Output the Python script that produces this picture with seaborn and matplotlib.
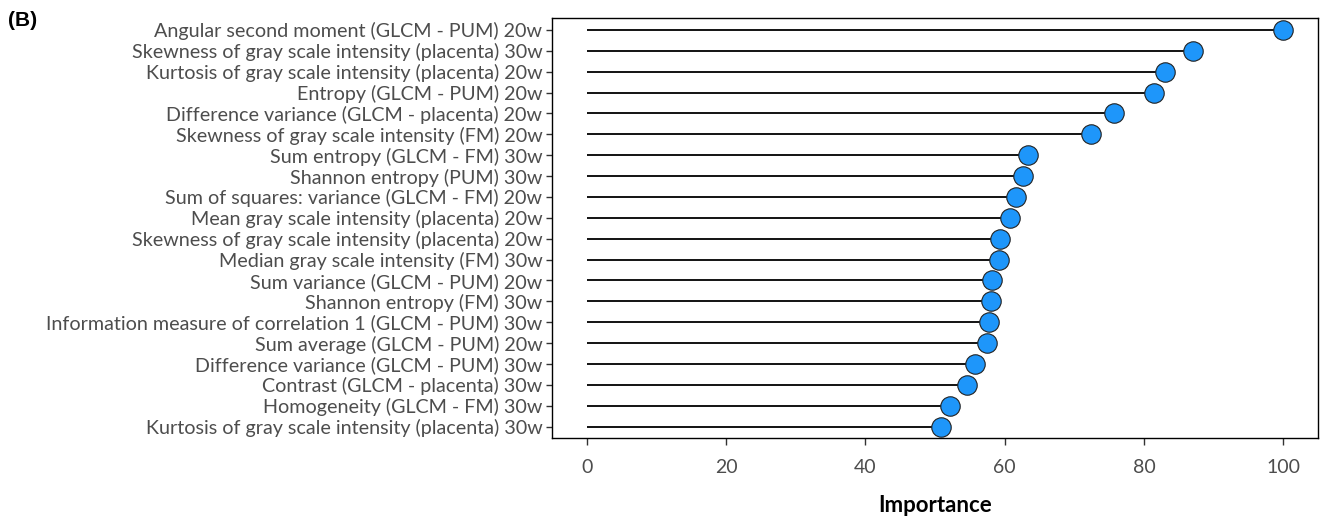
import matplotlib
matplotlib.use("Agg")
import matplotlib.pyplot as plt
import seaborn as sns
import pandas as pd

features = [
    "Angular second moment (GLCM - PUM) 20w",
    "Skewness of gray scale intensity (placenta) 30w",
    "Kurtosis of gray scale intensity (placenta) 20w",
    "Entropy (GLCM - PUM) 20w",
    "Difference variance (GLCM - placenta) 20w",
    "Skewness of gray scale intensity (FM) 20w",
    "Sum entropy (GLCM - FM) 30w",
    "Shannon entropy (PUM) 30w",
    "Sum of squares: variance (GLCM - FM) 20w",
    "Mean gray scale intensity (placenta) 20w",
    "Skewness of gray scale intensity (placenta) 20w",
    "Median gray scale intensity (FM) 30w",
    "Sum variance (GLCM - PUM) 20w",
    "Shannon entropy (FM) 30w",
    "Information measure of correlation 1 (GLCM - PUM) 30w",
    "Sum average (GLCM - PUM) 20w",
    "Difference variance (GLCM - PUM) 30w",
    "Contrast (GLCM - placenta) 30w",
    "Homogeneity (GLCM - FM) 30w",
    "Kurtosis of gray scale intensity (placenta) 30w",
]
importance = [100.0, 87.0, 83.1, 81.4, 75.7, 72.4, 63.3, 62.6, 61.7, 60.8,
              59.3, 59.2, 58.2, 58.1, 57.8, 57.5, 55.8, 54.6, 52.1, 50.8]
x_ticks = [0, 20, 40, 60, 80, 100]

df = pd.DataFrame({"feature": features, "importance": importance})

sns.set_theme(style="white")
plt.rcParams["font.family"] = ["Lato", "DejaVu Sans"]

fig = plt.figure(figsize=(13.25, 5.18), dpi=100)
ax = fig.add_axes([552 / 1325, 1 - 438 / 518, (1318 - 552) / 1325, (438 - 18) / 518])

ax.hlines(y=range(len(df)), xmin=0, xmax=df["importance"], color="black",
          linewidth=1.3, zorder=1)
sns.stripplot(data=df, x="importance", y="feature", order=features, jitter=False,
              size=14, color="#1E96FA", edgecolor="#222222", linewidth=0.8,
              ax=ax, zorder=3)

ax.set_xlim(-5, 105)
ax.set_ylim(len(df) - 0.45, -0.57)
ax.set_xticks(x_ticks)
ax.set_xticklabels([str(t) for t in x_ticks])
ax.tick_params(axis="x", labelsize=14, colors="#4d4d4d", length=5, width=1,
               pad=10, bottom=True, color="#333333")
ax.tick_params(axis="y", labelsize=14.2, colors="#4d4d4d", length=4, width=1,
               pad=3, left=True, color="#333333")
for lab in ax.get_yticklabels() + ax.get_xticklabels():
    lab.set_color("#4d4d4d")
for s in ax.spines.values():
    s.set_visible(True)
    s.set_color("black")
    s.set_linewidth(1.0)

ax.set_ylabel("")
ax.set_xlabel("Importance", fontsize=16, fontweight="bold", color="black", labelpad=14)

fig.text(8 / 1325, 1 - 20 / 518, "(B)", fontsize=15, fontweight="bold",
         family="Liberation Sans", va="center", ha="left", color="black")

fig.savefig("out.png", dpi=100)
